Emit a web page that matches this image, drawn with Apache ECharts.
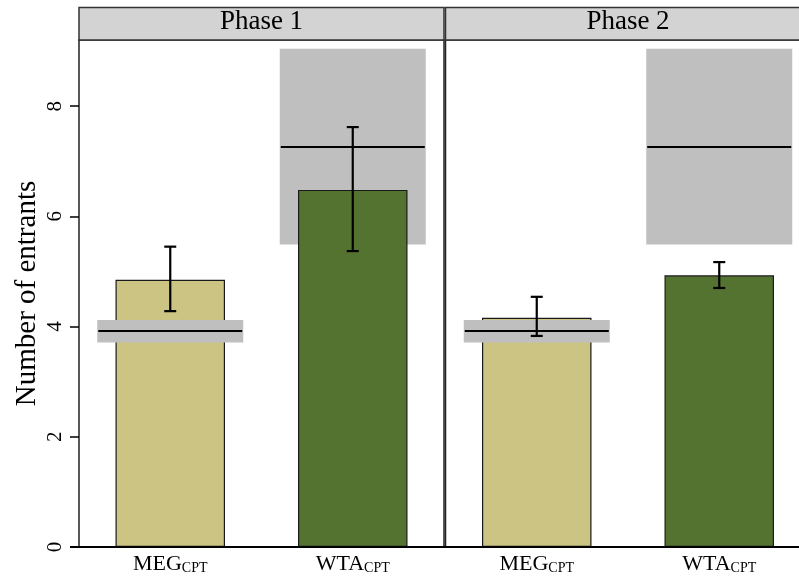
<!DOCTYPE html>
<html><head><meta charset="utf-8">
<script src="https://cdn.jsdelivr.net/npm/echarts@6/dist/echarts.min.js"></script>
<style>html,body{margin:0;padding:0;background:#fff}#c{width:799px;height:579px}</style>
</head><body><div id="c"></div>
<script>
// ---- data ----
const categories = ['MEG', 'WTA'];
const subscript = 'CPT';
const phases = ['Phase 1', 'Phase 2'];
const yTicks = [0, 2, 4, 6, 8];
const meansP1 = [4.85, 6.48];
const meansP2 = [4.16, 4.93];
const errLowP1 = [4.28, 5.37];
const errLowP2 = [3.83, 4.70];
const errHighP1 = [5.45, 7.62];
const errHighP2 = [4.54, 5.17];
const bandLow = [3.71, 5.49];
const bandHigh = [4.12, 9.04];
const bandMid = [3.92, 7.26];
const barColors = ['#ccc482', '#557330'];

const means = [meansP1, meansP2];
const errLow = [errLowP1, errLowP2];
const errHigh = [errHighP1, errHighP2];

const FONT = '"Liberation Serif", "DejaVu Serif", serif';
const gridLefts = [79, 445.5];
const gridW = 365;
const gridTop = 40, gridH = 507;

function renderBand(params, api) {
  const c = api.value(0);
  const lo = api.coord([c, api.value(1)]);
  const hi = api.coord([c, api.value(2)]);
  const mid = api.coord([c, api.value(3)]);
  const w = api.size([1, 0])[0] * 0.8;
  return { type: 'group', children: [
    { type: 'rect', shape: { x: lo[0] - w / 2, y: hi[1], width: w, height: lo[1] - hi[1] }, style: { fill: '#bfbfbf' } },
    { type: 'line', shape: { x1: lo[0] - w / 2 + 1, y1: mid[1], x2: lo[0] + w / 2 - 1, y2: mid[1] }, style: { stroke: '#000', lineWidth: 2 } }
  ]};
}
function renderErr(params, api) {
  const c = api.value(0);
  const lo = api.coord([c, api.value(1)]);
  const hi = api.coord([c, api.value(2)]);
  const cw = 6;
  const st = { stroke: '#000', lineWidth: 2.2 };
  return { type: 'group', children: [
    { type: 'line', shape: { x1: lo[0], y1: lo[1], x2: hi[0], y2: hi[1] }, style: st },
    { type: 'line', shape: { x1: lo[0] - cw, y1: lo[1], x2: lo[0] + cw, y2: lo[1] }, style: st },
    { type: 'line', shape: { x1: hi[0] - cw, y1: hi[1], x2: hi[0] + cw, y2: hi[1] }, style: st }
  ]};
}

const grids = [], xAxes = [], yAxes = [], series = [], graphics = [];
phases.forEach((ph, i) => {
  grids.push({ left: gridLefts[i], top: gridTop, width: gridW, height: gridH, show: true,
    outerBoundsMode: 'none', containLabel: false,
    borderColor: '#222', borderWidth: 1.5, backgroundColor: 'transparent' });
  xAxes.push({ type: 'category', gridIndex: i, data: categories,
    axisLine: { show: false }, axisTick: { show: false },
    axisLabel: { margin: 6, formatter: v => '{a|' + v + '}{b|' + subscript + '}',
      rich: { a: { fontSize: 22, fontFamily: FONT, color: '#000', verticalAlign: 'bottom' },
              b: { fontSize: 14, fontFamily: FONT, color: '#000', verticalAlign: 'bottom' } } } });
  yAxes.push({ type: 'value', gridIndex: i, min: 0, max: 9.2, interval: 2,
    splitLine: { show: false },
    axisLine: { show: false },
    axisTick: { show: i === 0, length: 9, lineStyle: { color: '#000', width: 1.5 }, customValues: yTicks },
    axisLabel: { show: i === 0, rotate: 90, margin: 13, fontSize: 21, fontFamily: FONT, color: '#000', customValues: yTicks },
    name: i === 0 ? 'Number of entrants' : '', nameLocation: 'middle', nameRotate: 90, nameGap: 37,
    nameTextStyle: { fontSize: 29, fontFamily: FONT, color: '#000' } });
  series.push({ type: 'custom', xAxisIndex: i, yAxisIndex: i, z: 1, renderItem: renderBand,
    encode: { x: 0, y: [1, 2, 3] }, data: [[1, bandLow[1], bandHigh[1], bandMid[1]]], silent: true });
  series.push({ type: 'bar', xAxisIndex: i, yAxisIndex: i, z: 2, barWidth: '60%',
    data: means[i].map((v, k) => ({ value: v, itemStyle: { color: barColors[k], borderColor: '#1a1a1a', borderWidth: 1.2 } })) });
  series.push({ type: 'custom', xAxisIndex: i, yAxisIndex: i, z: 3, renderItem: renderBand,
    encode: { x: 0, y: [1, 2, 3] }, data: [[0, bandLow[0], bandHigh[0], bandMid[0]]], silent: true });
  series.push({ type: 'custom', xAxisIndex: i, yAxisIndex: i, z: 4, renderItem: renderErr,
    encode: { x: 0, y: [1, 2] }, data: categories.map((c, k) => [k, errLow[i][k], errHigh[i][k]]), silent: true });
  // strip header
  graphics.push({ type: 'rect', shape: { x: gridLefts[i], y: 7.5, width: gridW, height: 32.5 },
    style: { fill: '#d3d3d3', stroke: '#333', lineWidth: 1.5 }, z: 10 });
  graphics.push({ type: 'text', x: gridLefts[i] + gridW / 2, y: 22, z: 11,
    style: { text: ph, fontSize: 27, fontFamily: FONT, fill: '#000', align: 'center', verticalAlign: 'middle' } });
});
graphics.push({ type: 'line', shape: { x1: 70, y1: 547, x2: 799, y2: 547 }, style: { stroke: '#000', lineWidth: 1.8 }, z: 10 });

const chart = echarts.init(document.getElementById('c'), null, { renderer: 'canvas' });
chart.setOption({ animation: false, backgroundColor: '#fff', grid: grids, xAxis: xAxes, yAxis: yAxes, series, graphic: graphics });
</script></body></html>
